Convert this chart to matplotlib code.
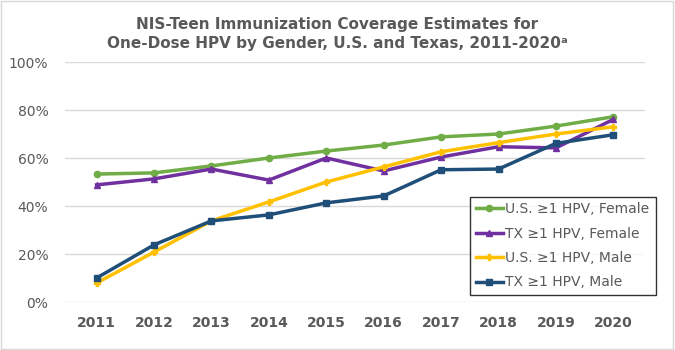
import matplotlib
matplotlib.use("Agg")
import matplotlib.pyplot as plt
from matplotlib.patches import Rectangle

years = ["2011", "2012", "2013", "2014", "2015", "2016", "2017", "2018", "2019", "2020"]
us_female = [53.3, 53.8, 56.7, 60.0, 62.9, 65.4, 68.8, 70.0, 73.3, 77.2]
tx_female = [48.8, 51.3, 55.4, 50.8, 60.0, 54.6, 60.4, 64.7, 64.2, 76.1]
us_male = [7.9, 20.8, 33.8, 41.7, 50.0, 56.3, 62.6, 66.4, 70.0, 73.0]
tx_male = [10.0, 23.8, 33.8, 36.3, 41.3, 44.2, 55.1, 55.4, 66.1, 69.7]
series_labels = ["U.S. \u22651 HPV, Female", "TX \u22651 HPV, Female",
                 "U.S. \u22651 HPV, Male", "TX \u22651 HPV, Male"]
yticks = [0, 20, 40, 60, 80, 100]

plt.rcParams['font.family'] = ['DejaVu Sans']
fig = plt.figure(figsize=(6.75, 3.5), dpi=100)
ax = fig.add_axes([65/675, 1-302/350, (645-65)/675, (302-62)/350])

x = range(len(years))
styles = [
    (us_female, "#70AD47", "o", 4.5),
    (tx_female, "#7030A0", "^", 5),
    (us_male, "#FFC000", "P", 4),
    (tx_male, "#1F4E79", "s", 5),
]
for (vals, c, m, ms), lab in zip(styles, series_labels):
    ax.plot(x, vals, color=c, marker=m, markersize=ms, linewidth=2.5, label=lab)

ax.set_xlim(-0.55, len(years) - 0.45)
ax.set_ylim(0, 100)
ax.set_yticks(yticks)
ax.set_yticklabels([f"{v}%" for v in yticks], color="#595959", fontsize=10)
ax.set_xticks(list(x))
ax.set_xticklabels(years, color="#595959", fontsize=10, fontweight="bold")
ax.grid(axis="y", color="#D9D9D9", linewidth=1)
ax.set_axisbelow(True)
for s in ax.spines.values():
    s.set_visible(False)
ax.tick_params(axis="x", length=0, pad=10)
ax.tick_params(axis="y", length=0, pad=12)

fig.text(0.5, 1 - 29/350, "NIS-Teen Immunization Coverage Estimates for",
         ha="center", va="baseline", fontsize=11, fontweight="bold", color="#595959")
fig.text(0.5, 1 - 48/350, "One-Dose HPV by Gender, U.S. and Texas, 2011-2020\u1d43",
         ha="center", va="baseline", fontsize=11, fontweight="bold", color="#595959")

leg = fig.legend(loc="lower left", bbox_to_anchor=(470/675, 1-295/350, (656-470)/675, (295-193)/350),
                 mode="expand", frameon=True, fancybox=False, fontsize=10, labelspacing=0.75,
                 handlelength=2.0, handletextpad=0.15, borderaxespad=0, borderpad=0.4)
leg.get_frame().set_edgecolor("black")
leg.get_frame().set_linewidth(1)
for t in leg.get_texts():
    t.set_color("#595959")

fig.patches.append(Rectangle((0.002, 0.003), 0.995, 0.993, transform=fig.transFigure,
                             fill=False, edgecolor="#D9D9D9", linewidth=1))
fig.savefig("out.png", dpi=100)
